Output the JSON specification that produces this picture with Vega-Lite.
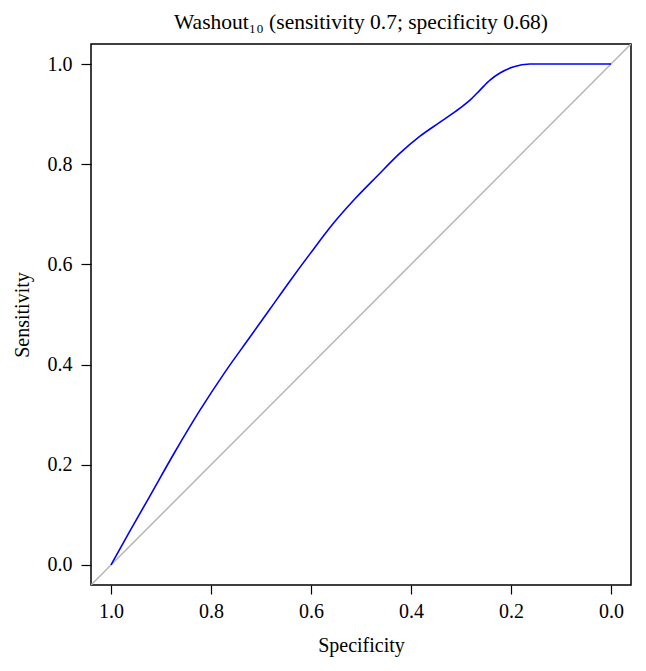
{
  "$schema": "https://vega.github.io/schema/vega-lite/v6.json",
  "width": 540,
  "height": 541,
  "autosize": {"type": "none"},
  "padding": {"left": 91, "top": 44, "right": 15, "bottom": 86},
  "background": "white",
  "title": {
    "text": "Washout₁₀ (sensitivity 0.7; specificity 0.68)",
    "font": "Liberation Serif",
    "fontSize": 21.5,
    "fontWeight": "normal",
    "color": "black",
    "anchor": "middle",
    "baseline": "alphabetic",
    "offset": 15,
    "dy": 21
  },
  "config": {
    "view": {"stroke": "black", "strokeWidth": 1.5},
    "axis": {
      "labelFont": "Liberation Serif",
      "titleFont": "Liberation Serif",
      "labelFontSize": 20,
      "titleFontSize": 20,
      "titleFontWeight": "normal",
      "labelColor": "black",
      "titleColor": "black",
      "tickColor": "black",
      "tickWidth": 1.2,
      "domain": false,
      "grid": false
    }
  },
  "datasets": {
    "roc": [
      {"spec": 1.0, "sens": 0.0},
      {"spec": 0.962, "sens": 0.068},
      {"spec": 0.922, "sens": 0.138},
      {"spec": 0.872, "sens": 0.226},
      {"spec": 0.822, "sens": 0.309},
      {"spec": 0.772, "sens": 0.385},
      {"spec": 0.722, "sens": 0.455},
      {"spec": 0.682, "sens": 0.511},
      {"spec": 0.642, "sens": 0.567},
      {"spec": 0.602, "sens": 0.621},
      {"spec": 0.556, "sens": 0.681},
      {"spec": 0.512, "sens": 0.731},
      {"spec": 0.468, "sens": 0.776},
      {"spec": 0.422, "sens": 0.822},
      {"spec": 0.382, "sens": 0.856},
      {"spec": 0.342, "sens": 0.884},
      {"spec": 0.302, "sens": 0.912},
      {"spec": 0.282, "sens": 0.928},
      {"spec": 0.262, "sens": 0.948},
      {"spec": 0.242, "sens": 0.968},
      {"spec": 0.222, "sens": 0.982},
      {"spec": 0.196, "sens": 0.994},
      {"spec": 0.162, "sens": 1.0},
      {"spec": 0.102, "sens": 1.0},
      {"spec": 0.0, "sens": 1.0}
    ],
    "diag": [
      {"spec": 1.04, "sens": -0.04},
      {"spec": -0.04, "sens": 1.04}
    ]
  },
  "encoding": {
    "x": {
      "field": "spec",
      "type": "quantitative",
      "title": "Specificity",
      "scale": {"domain": [-0.04, 1.04], "reverse": true, "nice": false, "zero": false},
      "axis": {
        "values": [0, 0.2, 0.4, 0.6, 0.8, 1.0],
        "format": ".1f",
        "tickSize": 9,
        "labelBaseline": "alphabetic",
        "labelPadding": 23,
        "titleBaseline": "alphabetic",
        "titlePadding": 30
      }
    },
    "y": {
      "field": "sens",
      "type": "quantitative",
      "title": "Sensitivity",
      "scale": {"domain": [-0.04, 1.04], "nice": false, "zero": false},
      "axis": {
        "values": [0, 0.2, 0.4, 0.6, 0.8, 1.0],
        "format": ".1f",
        "tickSize": 10,
        "labelPadding": 9,
        "titleBaseline": "alphabetic",
        "titlePadding": 19
      }
    }
  },
  "layer": [
    {
      "data": {"name": "diag"},
      "mark": {"type": "line", "color": "#b5b5b5", "strokeWidth": 1.5, "clip": true}
    },
    {
      "data": {"name": "roc"},
      "mark": {"type": "line", "color": "#0000ff", "strokeWidth": 1.6, "interpolate": "monotone"}
    }
  ]
}
